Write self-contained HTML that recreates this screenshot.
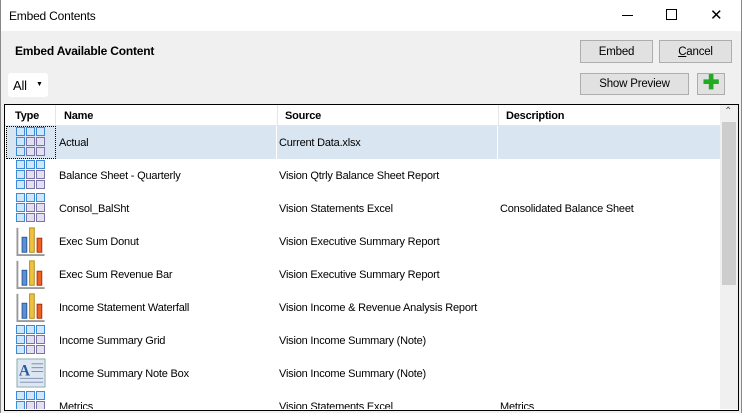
<!DOCTYPE html><html><head><style>
body{margin:0;width:742px;height:413px;overflow:hidden;background:#f0f0f0;font-family:"Liberation Sans",sans-serif;font-size:11px;letter-spacing:-0.2px;color:#000;position:relative}
.a{position:absolute}
.btn{position:absolute;background:#e1e1e1;border:1px solid #adadad;text-align:center;font-size:11.5px;box-sizing:border-box}
.row{position:absolute;left:6px;width:714px;height:33px}
.row span{position:absolute;top:11px;white-space:nowrap}
.g{position:absolute;left:10px;top:1px;width:30px;height:30px}
</style></head><body>
<div class="a" style="left:0;top:0;width:742px;height:31px;background:#fff"></div>
<div class="a" style="left:9px;top:9px;font-size:12px">Embed Contents</div>
<div class="a" style="left:622px;top:15px;width:11px;height:1px;background:#000"></div>
<div class="a" style="left:666px;top:9px;width:9px;height:9px;border:1px solid #000"></div>
<div class="a" style="left:710px;top:6px;font-size:15px">✕</div>
<div class="a" style="left:0;top:0;width:1px;height:413px;background:#888"></div>
<div class="a" style="left:741px;top:0;width:1px;height:413px;background:#888"></div>
<div class="a" style="left:15px;top:44px;font-weight:bold;font-size:12px">Embed Available Content</div>
<div class="btn" style="left:580px;top:40px;width:73px;height:23px;line-height:22px">Embed</div>
<div class="btn" style="left:659px;top:40px;width:73px;height:23px;line-height:22px"><u>C</u>ancel</div>
<div class="btn" style="left:580px;top:73px;width:109px;height:22px;line-height:21px">Show Preview</div>
<div class="btn" style="left:697px;top:73px;width:28px;height:22px;color:#2a2;font-weight:bold;font-size:20px;line-height:19px">✚</div>
<div class="a" style="left:8px;top:73px;width:40px;height:24px;background:#fff;border-radius:3px"></div>
<div class="a" style="left:13px;top:78px;font-size:13px">All</div>
<div class="a" style="left:36px;top:81px;font-size:7px">▼</div>
<div class="a" style="left:4px;top:104px;width:733px;height:305px;border:1px solid #000;background:#fff"></div>
<div class="a" style="left:5px;top:105px;width:715px;height:20px;background:#fff;border-bottom:1px solid #e5e5e5"></div>
<div class="a" style="left:55px;top:105px;width:1px;height:20px;background:#e5e5e5"></div>
<div class="a" style="left:277px;top:105px;width:1px;height:20px;background:#e5e5e5"></div>
<div class="a" style="left:498px;top:105px;width:1px;height:20px;background:#e5e5e5"></div>
<div class="a" style="left:15px;top:110px;font-weight:bold">Type</div>
<div class="a" style="left:64px;top:110px;font-weight:bold">Name</div>
<div class="a" style="left:285px;top:110px;font-weight:bold">Source</div>
<div class="a" style="left:506px;top:110px;font-weight:bold">Description</div>
<div class="a" style="left:720px;top:105px;width:18px;height:304px;background:#f0f0f0"></div>
<div class="a" style="left:722px;top:122px;width:14px;height:163px;background:#cdcdcd"></div>
<div class="a" style="left:724px;top:106px;font-size:10px;color:#555">⌃</div>
<svg width="0" height="0" style="position:absolute"><defs>
<g id="grid"><g fill="#cfe6fb" stroke="#3c8ad8"><rect x="0.5" y="0.5" width="8" height="8"/><rect x="10.5" y="0.5" width="8" height="8"/><rect x="20.5" y="0.5" width="8" height="8"/><rect x="0.5" y="10.5" width="8" height="8"/><rect x="0.5" y="20.5" width="8" height="8"/></g><g fill="#e3e0f0" stroke="#7a74a8"><rect x="10.5" y="10.5" width="8" height="8"/><rect x="20.5" y="10.5" width="8" height="8"/><rect x="10.5" y="20.5" width="8" height="8"/><rect x="20.5" y="20.5" width="8" height="8"/></g></g>
<g id="bar"><path d="M1 2V31H30" stroke="#999" fill="none" stroke-width="2"/><rect x="6" y="12" width="5" height="16" fill="#5b8fd6" stroke="#2a5a9a"/><rect x="14" y="2" width="5" height="26" fill="#f0c040" stroke="#b08a10"/><rect x="22" y="13" width="5" height="15" fill="#f06020" stroke="#a03010"/></g>
<g id="note"><rect x="1" y="1" width="29" height="29" fill="#dde6f2" stroke="#8aa"/><text x="3" y="18" font-size="16" font-weight="bold" fill="#2a5aa0" font-family="Liberation Serif">A</text><g stroke="#7a8aa8"><line x1="16" y1="6" x2="28" y2="6"/><line x1="16" y1="10" x2="28" y2="10"/><line x1="16" y1="14" x2="28" y2="14"/><line x1="4" y1="21" x2="28" y2="21"/><line x1="4" y1="25" x2="28" y2="25"/></g></g>
</defs></svg>
<div class="row" style="top:126px;background:#d9e5f1"><div class="a" style="left:0;top:0;width:48px;height:31px;border:1px dotted #000"></div><svg class="g" viewBox="0 0 30 30"><use href="#grid"/></svg><span style="left:53px">Actual</span><span style="left:273px">Current Data.xlsx</span><div class="a" style="left:270px;top:0;width:1px;height:33px;background:#fff"></div><div class="a" style="left:491px;top:0;width:1px;height:33px;background:#fff"></div></div>
<div class="row" style="top:159px"><svg class="g" viewBox="0 0 30 30"><use href="#grid"/></svg><span style="left:53px">Balance Sheet - Quarterly</span><span style="left:273px">Vision Qtrly Balance Sheet Report</span></div>
<div class="row" style="top:192px"><svg class="g" viewBox="0 0 30 30"><use href="#grid"/></svg><span style="left:53px">Consol_BalSht</span><span style="left:273px">Vision Statements Excel</span><span style="left:494px">Consolidated Balance Sheet</span></div>
<div class="row" style="top:225px"><svg class="g" viewBox="0 0 31 32"><use href="#bar"/></svg><span style="left:53px">Exec Sum Donut</span><span style="left:273px">Vision Executive Summary Report</span></div>
<div class="row" style="top:258px"><svg class="g" viewBox="0 0 31 32"><use href="#bar"/></svg><span style="left:53px">Exec Sum Revenue Bar</span><span style="left:273px">Vision Executive Summary Report</span></div>
<div class="row" style="top:291px"><svg class="g" viewBox="0 0 31 32"><use href="#bar"/></svg><span style="left:53px">Income Statement Waterfall</span><span style="left:273px">Vision Income &amp; Revenue Analysis Report</span></div>
<div class="row" style="top:324px"><svg class="g" viewBox="0 0 30 30"><use href="#grid"/></svg><span style="left:53px">Income Summary Grid</span><span style="left:273px">Vision Income Summary (Note)</span></div>
<div class="row" style="top:357px"><svg class="g" viewBox="0 0 31 31"><use href="#note"/></svg><span style="left:53px">Income Summary Note Box</span><span style="left:273px">Vision Income Summary (Note)</span></div>
<div class="row" style="top:390px;height:19px;overflow:hidden"><svg class="g" viewBox="0 0 30 30"><use href="#grid"/></svg><span style="left:53px">Metrics</span><span style="left:273px">Vision Statements Excel</span><span style="left:494px">Metrics</span></div>
</body></html>
